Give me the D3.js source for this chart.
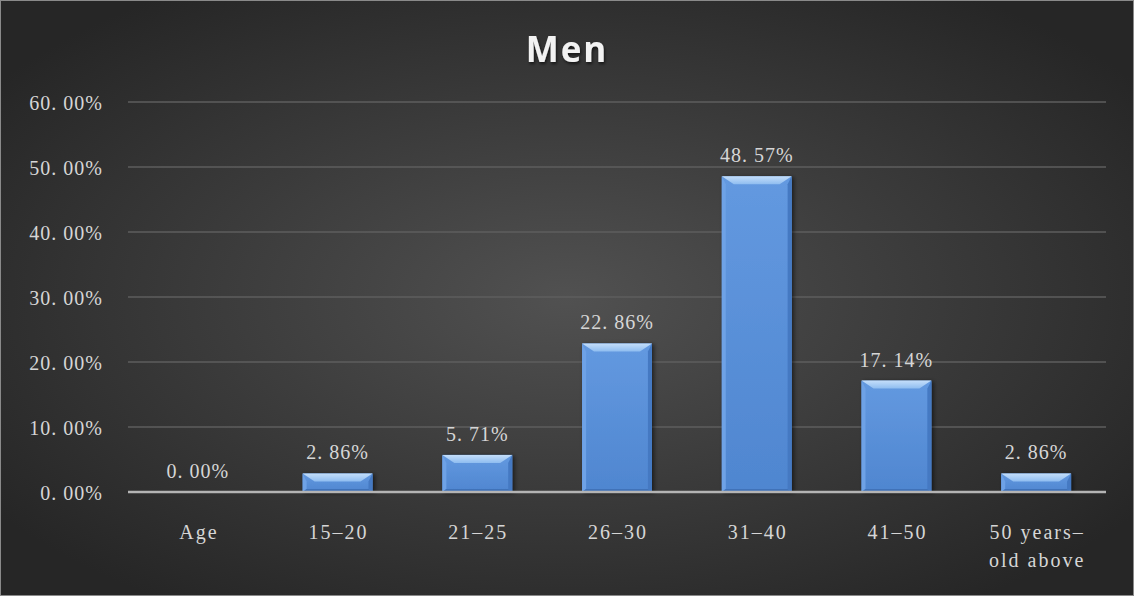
<!DOCTYPE html>
<html>
<head>
<meta charset="utf-8">
<script src="https://cdn.jsdelivr.net/npm/d3@7/dist/d3.min.js"></script>
<style>
  html, body { margin: 0; padding: 0; background: #2a2a2a; }
  svg { display: block; }
</style>
</head>
<body>
<svg id="chart" width="1134" height="596"></svg>
<script>
// Share of men by age group
const categories = ["Age", "15-20", "21-25", "26-30", "31-40", "41-50", "50 years-\nold above"];
const shares = [0.0000, 0.0286, 0.0571, 0.2286, 0.4857, 0.1714, 0.0286];
const yTicks = [0, 0.1, 0.2, 0.3, 0.4, 0.5, 0.6];
const chartTitle = "Men";

const W = 1134, H = 596;
const margin = { left: 128, right: 28, top: 102, bottom: 104 };
const svg = d3.select("#chart");
const serif = "'Liberation Serif', 'DejaVu Serif', serif";

// Percent label with the wide gap after the decimal point
const pct = v => d3.format(".2%")(v).replace(".", ". ");

const defs = svg.append("defs");
const bg = defs.append("radialGradient").attr("id", "bg")
  .attr("cx", "50%").attr("cy", "50%").attr("r", "62%");
bg.append("stop").attr("offset", "0%").attr("stop-color", "#515151");
bg.append("stop").attr("offset", "100%").attr("stop-color", "#262626");

const topG = defs.append("linearGradient").attr("id", "bevelTop")
  .attr("x1", 0).attr("y1", 0).attr("x2", 0).attr("y2", 1);
topG.append("stop").attr("offset", "0%").attr("stop-color", "#c4defa");
topG.append("stop").attr("offset", "100%").attr("stop-color", "#8fbdf0");

const bodyG = defs.append("linearGradient").attr("id", "barBody")
  .attr("x1", 0).attr("y1", 0).attr("x2", 0).attr("y2", 1);
bodyG.append("stop").attr("offset", "0%").attr("stop-color", "#6399e0");
bodyG.append("stop").attr("offset", "100%").attr("stop-color", "#4f86d0");

const shadow = defs.append("filter").attr("id", "shadow")
  .attr("x", "-20%").attr("y", "-20%").attr("width", "150%").attr("height", "150%");
shadow.append("feDropShadow").attr("dx", 2).attr("dy", 1).attr("stdDeviation", 2)
  .attr("flood-color", "#000").attr("flood-opacity", 0.55);

const titleShadow = defs.append("filter").attr("id", "tshadow");
titleShadow.append("feDropShadow").attr("dx", 1).attr("dy", 2).attr("stdDeviation", 1.5)
  .attr("flood-color", "#000").attr("flood-opacity", 0.6);

// Background and frame
svg.append("rect").attr("width", W).attr("height", H).attr("fill", "url(#bg)");
svg.append("rect").attr("x", 0.5).attr("y", 0.5).attr("width", W - 1).attr("height", H - 1)
  .attr("fill", "none").attr("stroke", "#8a8a8a").attr("stroke-width", 1);

const x = d3.scaleBand().domain(categories).range([margin.left, W - margin.right]).paddingInner(0.5).paddingOuter(0.25);
const y = d3.scaleLinear().domain([0, 0.6]).range([H - margin.bottom, margin.top]);

// Horizontal gridlines
svg.append("g").selectAll("line").data(yTicks.filter(d => d > 0)).join("line")
  .attr("x1", margin.left).attr("x2", W - margin.right)
  .attr("y1", d => y(d)).attr("y2", d => y(d))
  .attr("stroke", "#5e5e5e").attr("stroke-width", 1.5);

// Y axis tick labels
const yAxis = d3.axisLeft(y).tickValues(yTicks).tickFormat(pct).tickSize(0).tickPadding(25);
const gy = svg.append("g").attr("transform", `translate(${margin.left},0)`).call(yAxis);
gy.select(".domain").remove();
gy.selectAll("text")
  .attr("fill", "#d6d6d6")
  .attr("font-family", serif)
  .attr("font-size", 20)
  .attr("letter-spacing", 1)
  .attr("dy", "0.35em");

// Bars with bevelled edges
const rows = categories.map((c, i) => ({ c, v: shares[i] }));
const bars = svg.append("g").selectAll("g").data(rows).join("g")
  .attr("filter", "url(#shadow)");
bars.each(function(d) {
  if (d.v <= 0) return;
  const g = d3.select(this);
  const x0 = x(d.c), x1 = x0 + x.bandwidth();
  const y0 = y(d.v), y1 = y(0);
  const h = y1 - y0;
  const b = Math.min(8, h / 2.2);
  const bs = Math.min(12, h / 1.5);
  g.append("rect").attr("x", x0).attr("y", y0).attr("width", x1 - x0).attr("height", h).attr("fill", "url(#barBody)");
  // left side
  g.append("polygon").attr("points", [[x0, y0], [x0 + 4, y0 + b], [x0 + 4, y1 - 3], [x0, y1]].join(" "))
    .attr("fill", "#6ea2e6");
  // right side
  g.append("polygon").attr("points", [[x1, y0], [x1 - 4, y0 + b], [x1 - 4, y1 - 3], [x1, y1]].join(" "))
    .attr("fill", "#4479c2");
  // bottom
  g.append("polygon").attr("points", [[x0, y1], [x0 + 4, y1 - 3], [x1 - 4, y1 - 3], [x1, y1]].join(" "))
    .attr("fill", "#3f72b8");
  // top bevel
  g.append("polygon").attr("points", [[x0, y0], [x1, y0], [x1 - bs, y0 + b], [x0 + bs, y0 + b]].join(" "))
    .attr("fill", "url(#bevelTop)");
});

// Baseline
svg.append("line")
  .attr("x1", margin.left).attr("x2", W - margin.right)
  .attr("y1", y(0)).attr("y2", y(0))
  .attr("stroke", "#b4b4b4").attr("stroke-width", 2.5);

// Value labels
svg.append("g").selectAll("text").data(rows).join("text")
  .attr("x", d => x(d.c) + x.bandwidth() / 2)
  .attr("y", d => y(d.v) - 14)
  .attr("text-anchor", "middle")
  .attr("fill", "#d6d6d6")
  .attr("font-family", serif)
  .attr("font-size", 20)
  .attr("letter-spacing", 1)
  .text(d => pct(d.v));

// Category labels
const xl = svg.append("g").selectAll("text").data(categories).join("text")
  .attr("x", d => x(d) + x.bandwidth() / 2)
  .attr("y", 539)
  .attr("text-anchor", "middle")
  .attr("fill", "#d6d6d6")
  .attr("font-family", serif)
  .attr("font-size", 20)
  .attr("letter-spacing", 2);
xl.each(function(d) {
  const lines = d.split("\n");
  const t = d3.select(this);
  lines.forEach((ln, i) => {
    t.append("tspan").attr("x", x(d) + x.bandwidth() / 2 + 1).attr("dy", i === 0 ? 0 : 28)
      .text(ln.replace("-", "–"));
  });
});

// Title
svg.append("text")
  .attr("x", W / 2).attr("y", 62)
  .attr("text-anchor", "middle")
  .attr("fill", "#f2f2f2")
  .attr("font-family", "'Open Sans', 'DejaVu Sans', sans-serif")
  .attr("font-weight", 700)
  .attr("font-size", 35)
  .attr("letter-spacing", 2)
  .attr("filter", "url(#tshadow)")
  .text(chartTitle);
</script>
</body>
</html>
